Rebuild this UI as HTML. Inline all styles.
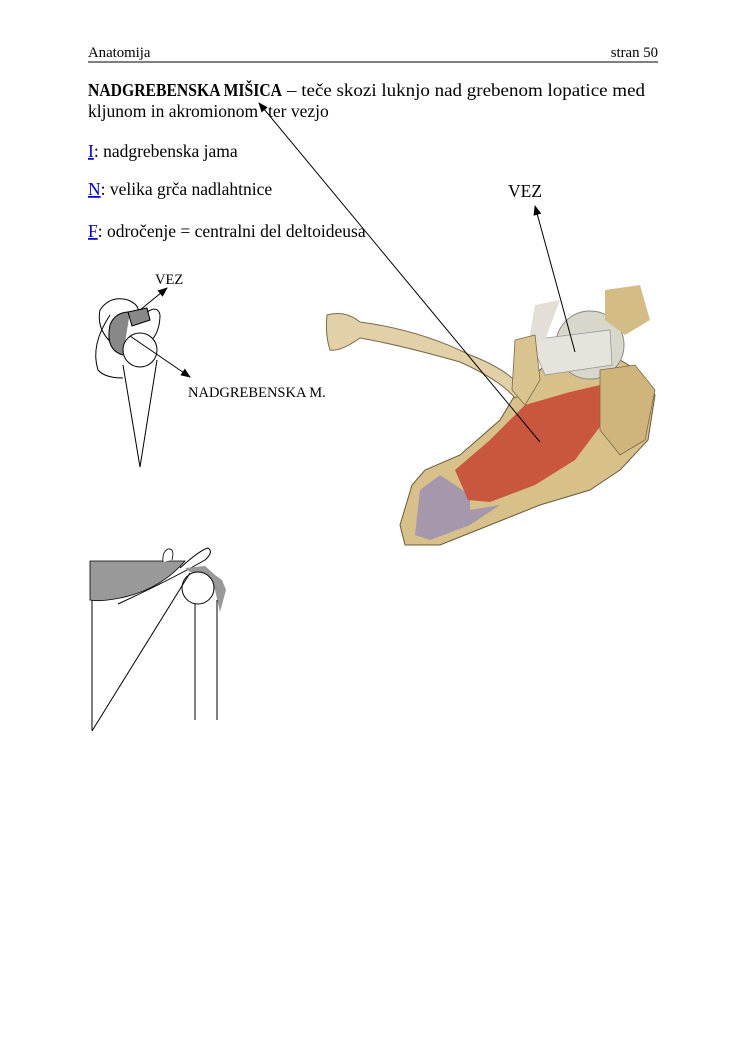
<!DOCTYPE html>
<html><head><meta charset="utf-8"><style>
body{margin:0;background:#fff;}
svg{display:block;font-family:"Liberation Serif",serif;}
</style></head><body>
<svg width="750" height="1061" viewBox="0 0 750 1061" xmlns="http://www.w3.org/2000/svg">
<defs><marker id="ah" markerWidth="10" markerHeight="8" refX="9" refY="4" orient="auto" markerUnits="userSpaceOnUse"><path d="M0,0 L10,4 L0,8 z" fill="#000"/></marker></defs>
<text x="88" y="57" font-size="14.8">Anatomija</text>
<text x="658" y="57" font-size="14.8" text-anchor="end">stran 50</text>
<line x1="88" y1="62" x2="658" y2="62" stroke="#000" stroke-width="1"/>
<text x="88" y="96" font-size="18" font-weight="bold" textLength="194" lengthAdjust="spacingAndGlyphs">NADGREBENSKA MIŠICA</text>
<text x="287" y="96" font-size="18" textLength="358" lengthAdjust="spacingAndGlyphs">– teče skozi luknjo nad grebenom lopatice med</text>
<text x="88" y="117" font-size="17.5">kljunom in akromionom</text>
<text x="268" y="117" font-size="17.5">ter vezjo</text>
<text x="88" y="157" font-size="17.5"><tspan fill="#00c" text-decoration="underline">I</tspan>: nadgrebenska jama</text>
<text x="88" y="195" font-size="17.5"><tspan fill="#00c" text-decoration="underline">N</tspan>: velika grča nadlahtnice</text>
<text x="88" y="237" font-size="17.5"><tspan fill="#00c" text-decoration="underline">F</tspan>: odročenje = centralni del deltoideusa</text>
<text x="508" y="197" font-size="17.5">VEZ</text>

<!-- anatomy illustration -->
<path d="M405,545 L400,525 L412,485 L425,470 L460,455 L500,420 L515,395 L540,370 L560,350 L600,350 L620,360 L640,372 L655,395 L648,440 L620,470 L590,490 L540,505 L490,525 L440,545 Z" fill="#d8c08a" stroke="#6a5a3a" stroke-width="1"/>
<path d="M415,535 L420,490 L440,475 L470,495 L470,510 L500,505 L470,525 L430,540 Z" fill="#a597ac"/>
<path d="M455,470 L490,440 L525,405 L570,392 L600,385 L605,420 L575,460 L535,485 L490,502 L468,500 Z" fill="#c9573f"/>
<path d="M327,315 Q345,310 360,322 Q420,330 470,355 Q510,370 525,392 L515,398 Q500,380 460,362 Q400,345 360,338 Q340,352 330,350 Q325,335 327,315 Z" fill="#e2d1a8" stroke="#7a6a4a" stroke-width="1"/>
<circle cx="590" cy="345" r="34" fill="#d9d6cc" stroke="#8a8a80" stroke-width="1"/>
<path d="M530,340 L610,330 L612,365 L545,375 Z" fill="#e6e3dc" stroke="#999" stroke-width="0.8"/>
<path d="M535,305 L560,300 L545,340 L528,345 Z" fill="#e4dfd6"/>
<path d="M605,290 L640,285 L650,320 L625,335 L605,320 Z" fill="#d3bc85"/>
<path d="M515,340 L535,335 L540,380 L525,405 L512,390 Z" fill="#d9c38e" stroke="#7a6a4a" stroke-width="0.8"/>
<path d="M600,370 L635,365 L655,390 L645,440 L620,455 L600,430 Z" fill="#cfb57b" stroke="#7a6a4a" stroke-width="0.8"/>
<line x1="540" y1="442" x2="259" y2="103" stroke="#000" stroke-width="1" marker-end="url(#ah)"/>
<line x1="575" y1="352" x2="535" y2="206" stroke="#000" stroke-width="1" marker-end="url(#ah)"/>

<!-- small diagram -->
<path d="M123,365 L140,467 L157,360" fill="none" stroke="#000" stroke-width="1"/>
<path d="M124,352 Q95,335 100,310 Q110,295 128,300 Q140,305 138,313" fill="none" stroke="#000" stroke-width="1"/>
<path d="M123,355 Q105,350 110,325 Q115,312 130,312" fill="#888" stroke="#000" stroke-width="1"/>
<path d="M128,312 L147,308 L150,320 L132,326 Z" fill="#888" stroke="#000" stroke-width="1"/>
<path d="M147,312 Q158,305 160,315 Q160,330 152,340" fill="none" stroke="#000" stroke-width="1"/>
<path d="M110,315 Q90,345 98,370 Q105,378 123,378" fill="none" stroke="#000" stroke-width="1"/>
<circle cx="140" cy="350" r="17" fill="#fff" stroke="#000" stroke-width="1"/>
<line x1="140" y1="310" x2="167" y2="288" stroke="#000" stroke-width="1" marker-end="url(#ah)"/>
<line x1="130" y1="336" x2="190" y2="377" stroke="#000" stroke-width="1" marker-end="url(#ah)"/>
<text x="155" y="284" font-size="14.5">VEZ</text>
<text x="188" y="397" font-size="14.5">NADGREBENSKA M.</text>

<!-- bottom diagram -->
<path d="M90,561 L185,561 Q160,590 120,598 Q100,602 90,600 Z" fill="#999" stroke="#000" stroke-width="0.8"/>
<path d="M163,562 Q162,552 168,549 Q175,548 172,560" fill="#fff" stroke="#000" stroke-width="0.8"/>
<path d="M180,568 Q200,550 208,548 Q214,552 205,560 Q170,580 118,604" fill="none" stroke="#000" stroke-width="1"/>
<path d="M185,568 L205,566 L215,575 L222,580 L226,590 L220,612 L215,590 L205,576 L190,572 Z" fill="#999"/>
<circle cx="198" cy="588" r="16" fill="#fff" stroke="#000" stroke-width="1"/>
<line x1="92" y1="600" x2="92" y2="731" stroke="#000" stroke-width="1"/>
<line x1="92" y1="731" x2="190" y2="573" stroke="#000" stroke-width="1"/>
<line x1="195" y1="604" x2="195" y2="720" stroke="#000" stroke-width="1"/>
<line x1="217" y1="600" x2="217" y2="720" stroke="#000" stroke-width="1"/>
</svg>
</body></html>
